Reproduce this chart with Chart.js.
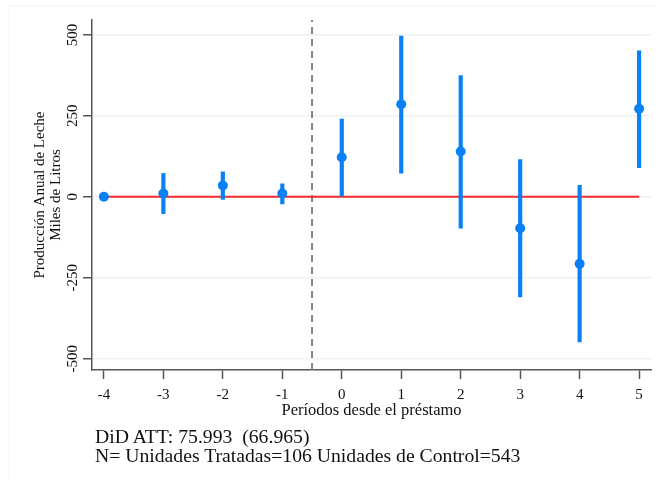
<!DOCTYPE html>
<html>
<head>
<meta charset="utf-8">
<script src="https://cdn.jsdelivr.net/npm/chart.js@4"></script>
<style>
  body { margin: 0; background: #fff; }
  #wrap { position: relative; width: 656px; height: 481px; }
  #frame { position: absolute; left: 9px; top: 5px; width: 660px; height: 490px;
           border-left: 1px solid #f3f4f4; border-top: 1px solid #f3f4f4; }
  #notes { position: absolute; left: 95px; top: 427px;
           font-family: "Liberation Serif", "Times New Roman", serif;
           font-size: 19.7px; line-height: 19px; color: #111; white-space: pre; }
</style>
</head>
<body>
<div id="wrap">
  <div id="frame"></div>
  <canvas id="grafico" width="656" height="481"></canvas>
  <div id="notes">DiD ATT: 75.993  (66.965)
N= Unidades Tratadas=106 Unidades de Control=543</div>
</div>
<script>
// dati
const periodi = [-4, -3, -2, -1, 0, 1, 2, 3, 4, 5];
const stime = [0, 10, 35, 10, 122, 286, 140, -97, -207, 272];
const ciBasso = [0, -52, -8, -22, 0, 73, -97, -309, -448, 90];
const ciAlto = [0, 72, 77, 40, 240, 496, 374, 115, 35, 451];
const yTicks = [-500, -250, 0, 250, 500];
const taglio = -0.5;
const yMin = -535, yMax = 546;
const xMin = -4.2, xMax = 5.2;

const blu = "#0a80f5";
const serif = "'Liberation Serif', 'Times New Roman', serif";

let puntiStime = periodi.map((p, i) => ({ x: p, y: stime[i] }));
// il periodo -4 e' il riferimento, senza intervallo
let intervalli = periodi
    .map((p, i) => ({ x: p, y: [ciBasso[i], ciAlto[i]] }))
    .filter(d => d.y[0] !== d.y[1]);

let ctx = document.getElementById("grafico").getContext("2d");

new Chart(ctx, {
    data: {
        datasets: [
            {
                type: "scatter",
                data: puntiStime,
                backgroundColor: blu,
                borderWidth: 0,
                pointRadius: 5,
                order: 1
            },
            {
                type: "bar",
                data: intervalli,
                backgroundColor: blu,
                barThickness: 3.5,
                borderSkipped: false,
                order: 2
            },
            {
                type: "line",
                data: [{ x: periodi[0], y: 0 }, { x: periodi[periodi.length - 1], y: 0 }],
                borderColor: "#f52b2b",
                borderWidth: 2,
                pointRadius: 0,
                order: 3
            },
            {
                type: "line",
                data: [{ x: taglio, y: yMin }, { x: taglio, y: yMax }],
                borderColor: "#858585",
                borderWidth: 2,
                borderDash: [7, 5],
                pointRadius: 0,
                order: 4
            }
        ]
    },
    options: {
        responsive: false,
        animation: false,
        layout: { padding: { top: 20, right: 0, left: 0, bottom: 56 } },
        plugins: {
            legend: { display: false },
            tooltip: { enabled: false }
        },
        scales: {
            x: {
                type: "linear",
                min: xMin,
                max: xMax,
                offset: false,
                afterBuildTicks: axis => { axis.ticks = periodi.map(v => ({ value: v })); },
                afterFit: axis => { axis.height = 55; },
                grid: { offset: false, drawOnChartArea: false, tickLength: 9, tickColor: "#555", tickWidth: 1.5 },
                border: { color: "#555", width: 1.5 },
                ticks: { color: "#111", font: { family: serif, size: 15 }, padding: 7 },
                title: {
                    display: true,
                    text: "Períodos desde el préstamo",
                    color: "#111",
                    font: { family: serif, size: 16.5 },
                    padding: { top: 0, bottom: 4 }
                }
            },
            y: {
                min: yMin,
                max: yMax,
                afterBuildTicks: axis => { axis.ticks = yTicks.map(v => ({ value: v })); },
                afterFit: axis => { axis.width = 92; },
                grid: { color: "#edf2f3", lineWidth: 1.5, tickLength: 9, tickColor: "#555", tickWidth: 1.5 },
                border: { color: "#555", width: 1.5 },
                ticks: {
                    color: "#111",
                    font: { family: serif, size: 15 },
                    minRotation: 90,
                    maxRotation: 90,
                    crossAlign: "center",
                    padding: -4
                },
                title: {
                    display: true,
                    text: ["Producción Anual de Leche", "Miles de Litros"],
                    color: "#111",
                    font: { family: serif, size: 15, lineHeight: 1.05 },
                    padding: { top: 32, bottom: 0 }
                }
            }
        }
    }
});
</script>
</body>
</html>
